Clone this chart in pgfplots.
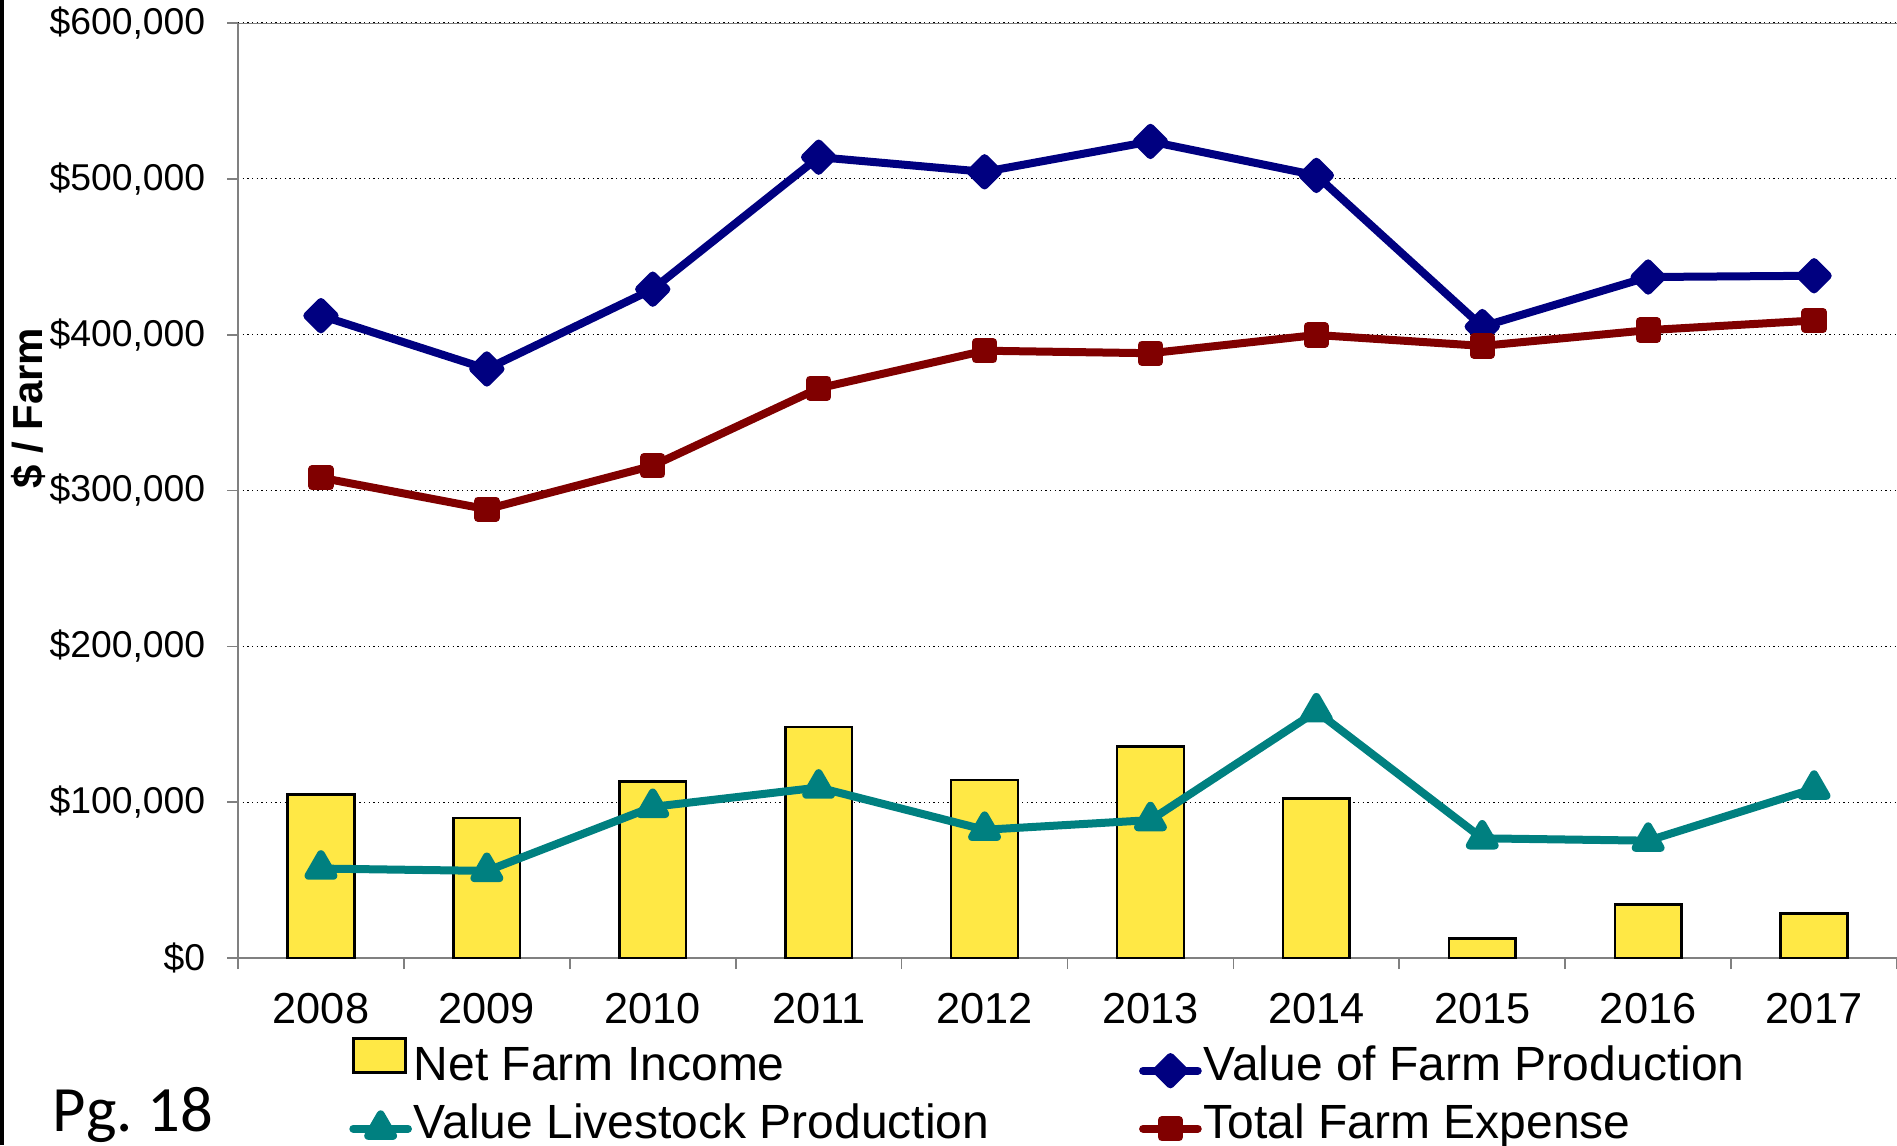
\documentclass[border=0pt]{standalone}
\usepackage{pgfplots}
\pgfplotsset{compat=1.18}
\usepackage{fontspec}
\setmainfont{Liberation Sans}
\newfontfamily\carlito{Carlito}
\definecolor{navyb}{RGB}{0,0,128}
\definecolor{maroonr}{RGB}{128,0,0}
\definecolor{tealg}{RGB}{0,128,128}
\definecolor{baryel}{RGB}{255,232,69}
\definecolor{axgray}{RGB}{128,128,128}
\begin{document}
\begin{tikzpicture}
\begin{axis}[
  at={(71.4pt,56.1pt)}, anchor=south west,
  scale only axis, width=497.7pt, height=280.5pt,
  xmin=-0.5, xmax=9.5, ymin=0, ymax=600000,
  xtick={-0.5,0.5,...,9.5},
  x tick label as interval,
  xticklabels={2008,2009,2010,2011,2012,2013,2014,2015,2016,2017},
  ytick={0,100000,200000,300000,400000,500000,600000},
  scaled y ticks=false,
  /pgf/number format/assume math mode=true,
  yticklabel={\$\pgfmathprintnumber[fixed,precision=0,1000 sep={,}]{\tick}},
  tick align=outside, major tick length=3.3pt,
  tick style={axgray, line width=0.5pt},
  axis x line*=bottom, axis y line*=left,
  axis line style={axgray, line width=0.8pt, -},
  ymajorgrids, grid style={black, densely dotted, line width=0.35pt},
  yticklabel style={font=\fontsize{11.2}{13}\selectfont, xshift=-3pt},
  xticklabel style={font=\fontsize{13}{15}\selectfont, yshift=-3.6pt},
  ylabel={\$ / Farm},
  ylabel style={at={(rel axis cs:-0.1263,0.588)}, anchor=center, rotate=0, font=\bfseries\fontsize{12.6}{15}\selectfont},
  legend columns=2,
  legend cell align=left,
  legend image code/.code={\draw[mark repeat=2,mark phase=2,line cap=round,#1] plot coordinates {(0pt,0pt) (8.2pt,0pt) (16.4pt,0pt)};},
  legend style={
    at={(0.0671,-0.0846)}, anchor=north west,
    draw=none, fill=none, inner sep=0pt, outer sep=0pt,
    font=\fontsize{14.4}{17}\selectfont,
    nodes={inner sep=0.6pt, text height=11pt, text depth=5.2pt},
    /tikz/every even column/.append style={column sep=44.3pt},
  },
]
\draw[axgray, line width=0.8pt] (rel axis cs:0,1) -- (rel axis cs:1,1);

\addplot[ybar, bar width=20pt, fill=baryel, draw=black, line width=0.75pt,
  legend image code/.code={\draw[fill=baryel,draw=black,line width=0.75pt] (0pt,-0.5pt) rectangle (15.6pt,9.7pt);}]
coordinates {(0,104800) (1,90000) (2,113300) (3,148300) (4,114100) (5,135800) (6,102500) (7,12400) (8,34200) (9,28700)};
\addlegendentry{Net Farm Income}

\addplot[navyb, line width=2.4pt, line join=round, mark=square*, mark size=2.9pt, mark options={solid, fill=navyb, rotate=45}]
coordinates {(0,412200) (1,378000) (2,429200) (3,513900) (4,504500) (5,524000) (6,502200) (7,405200) (8,437000) (9,437800)};
\addlegendentry{Value of Farm Production}

\addplot[tealg, line width=2.4pt, line join=round, mark=triangle*, mark size=4.3pt, mark options={solid, fill=tealg}]
coordinates {(0,57400) (1,55900) (2,97000) (3,109400) (4,82300) (5,88500) (6,158300) (7,76800) (8,75300) (9,108700)};
\addlegendentry{Value Livestock Production}

\addplot[maroonr, line width=2.4pt, line join=round, mark=square*, mark size=2.6pt, mark options={solid, fill=maroonr}]
coordinates {(0,308200) (1,288000) (2,315900) (3,365600) (4,389700) (5,388100) (6,399800) (7,392800) (8,402900) (9,409100)};
\addlegendentry{Total Farm Expense}
\end{axis}
\draw[black, line width=1.2pt] (0.6pt,0) -- (0.6pt,343.5pt);
\node[anchor=base west, inner sep=0pt, font=\carlito\fontsize{19.4}{23}\selectfont] at (15.6pt,4.1pt) {Pg.\ 18};
\pgfresetboundingbox
\useasboundingbox (0,0) rectangle (569.1pt,343.5pt);
\end{tikzpicture}
\end{document}
